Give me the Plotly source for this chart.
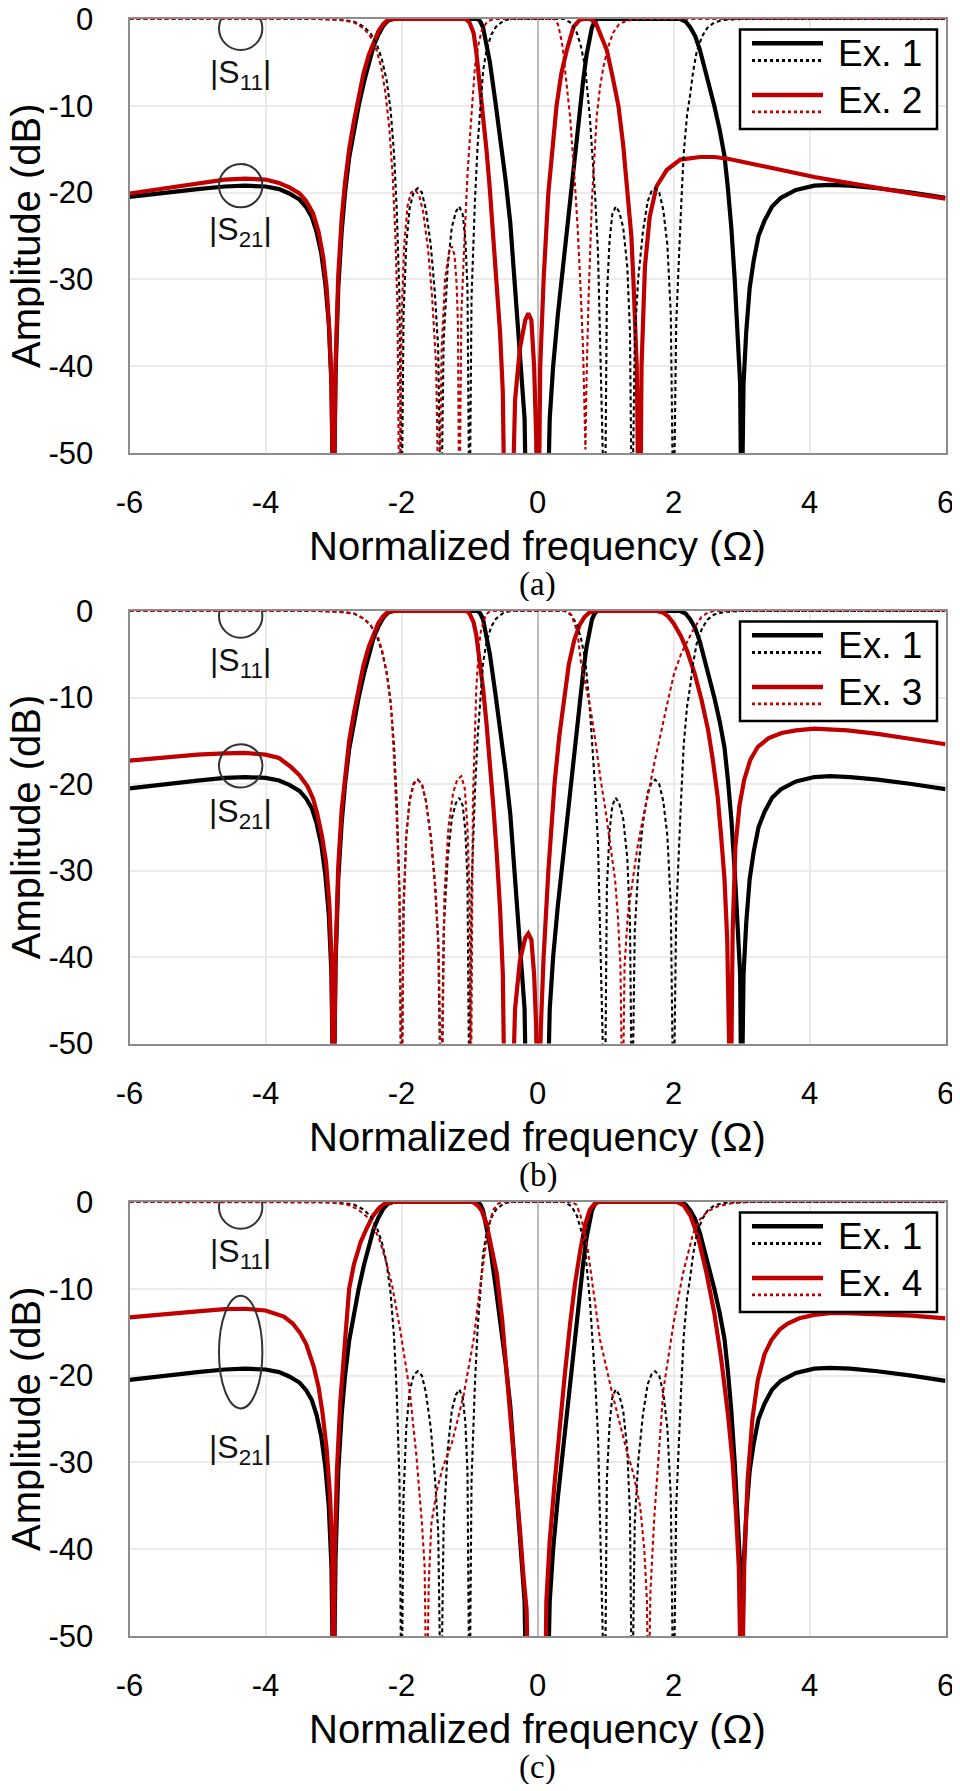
import plotly.graph_objects as go

# ---------------- data (Ω, dB) ----------------
EX1_S21 = [(-6.0,-20.5),(-5.5,-20.0),(-5.0,-19.6),(-4.6,-19.3),(-4.3,-19.2),(-4.0,-19.3),(-3.8,-19.6),
    (-3.65,-20.1),(-3.5,-20.8),(-3.4,-21.7),(-3.32,-22.8),(-3.25,-24.5),(-3.18,-27.0),(-3.12,-30.5),
    (-3.07,-35),(-3.03,-42),(-3.0,-60),(-2.97,-41),(-2.93,-31),(-2.88,-24.5),(-2.83,-20),(-2.77,-16),
    (-2.7,-12.8),(-2.63,-10),(-2.55,-7.2),(-2.48,-5),(-2.41,-3.1),(-2.34,-1.8),(-2.27,-0.8),(-2.2,-0.2),
    (-2.12,0),(-0.88,0),(-0.84,-0.3),(-0.8,-1.0),(-0.75,-2.8),(-0.7,-5.0),(-0.62,-9.5),(-0.55,-13.5),
    (-0.47,-18.5),(-0.4,-23.5),(-0.31,-33),(-0.24,-40.5),(-0.19,-46),(-0.16,-60),(0.14,-60),(0.18,-46),
    (0.23,-40),(0.3,-34),(0.38,-28),(0.46,-22.5),(0.53,-17.5),(0.6,-12),(0.67,-7.2),(0.72,-4.2),
    (0.76,-2.3),(0.8,-1.0),(0.84,-0.3),(0.88,0),(2.1,0),(2.18,-0.3),(2.25,-1.0),(2.32,-2.0),(2.39,-3.6),
    (2.45,-5.3),(2.52,-7.5),(2.6,-10),(2.68,-12.8),(2.75,-15.8),(2.8,-19.5),(2.85,-24),(2.9,-30),
    (2.95,-36.5),(2.98,-42),(3.0,-60),(3.03,-42),(3.07,-36),(3.12,-31),(3.18,-27.8),(3.25,-25),
    (3.34,-23.2),(3.45,-21.6),(3.58,-20.6),(3.8,-19.7),(4.07,-19.2),(4.3,-19.1),(4.6,-19.2),
    (5.0,-19.5),(5.5,-20.0),(6.0,-20.6)]

EX1_S11 = [(-6,0),(-3.2,0),(-2.9,-0.1),(-2.7,-0.3),(-2.55,-0.9),(-2.45,-1.7),(-2.36,-3.0),(-2.29,-4.6),
    (-2.22,-7.0),(-2.16,-10.5),(-2.11,-15.5),(-2.07,-22),(-2.03,-32),(-2.0,-60),(-1.97,-34),(-1.93,-26),
    (-1.88,-21.8),(-1.82,-19.9),(-1.76,-19.5),(-1.7,-20),(-1.64,-22),(-1.57,-26),(-1.51,-31.5),
    (-1.46,-38),(-1.42,-60),(-1.38,-37),(-1.32,-28.5),(-1.26,-24),(-1.2,-22.2),(-1.15,-21.6),
    (-1.1,-22.5),(-1.06,-25.5),(-1.03,-31),(-1.0,-60),(-0.97,-32),(-0.92,-20.9),(-0.88,-14.5),
    (-0.85,-11),(-0.8,-6),(-0.75,-3.6),(-0.68,-1.8),(-0.61,-0.9),(-0.5,-0.2),(-0.4,0),(0.4,0),
    (0.5,-0.5),(0.58,-1.6),(0.64,-3.2),(0.7,-5.5),(0.77,-11.3),(0.81,-15.5),(0.85,-20.8),(0.89,-27),
    (0.92,-36),(0.99,-60),(1.02,-32),(1.06,-25.5),(1.1,-22.5),(1.15,-21.6),(1.2,-22.2),(1.26,-24),
    (1.32,-28.5),(1.36,-36),(1.39,-60),(1.43,-37),(1.48,-30),(1.55,-24.5),(1.62,-21),(1.68,-19.8),
    (1.73,-19.5),(1.79,-20),(1.85,-22),(1.91,-26),(1.96,-34),(2.0,-60),(2.04,-35),(2.08,-27),
    (2.11,-22),(2.15,-15.5),(2.2,-11),(2.24,-9),(2.29,-6),(2.34,-3.8),(2.42,-2.0),(2.5,-1.0),
    (2.6,-0.4),(2.75,-0.1),(3.0,0),(6,0)]

EX2_S21 = [(-6,-20.1),(-5.5,-19.5),(-5.0,-18.9),(-4.6,-18.5),(-4.3,-18.4),(-4.0,-18.5),(-3.8,-18.9),
    (-3.65,-19.4),(-3.5,-20.1),(-3.4,-21.0),(-3.3,-22.4),(-3.22,-24.5),(-3.15,-27.5),(-3.1,-31),
    (-3.06,-36),(-3.03,-42),(-3.0,-60),(-2.97,-40),(-2.93,-29.5),(-2.88,-23),(-2.83,-18.8),(-2.77,-15),
    (-2.7,-11.8),(-2.64,-9.3),(-2.56,-6.3),(-2.48,-4.1),(-2.41,-2.6),(-2.34,-1.4),(-2.27,-0.6),
    (-2.2,-0.1),(-2.12,0),(-1.06,0),(-1.0,-0.4),(-0.94,-1.6),(-0.9,-3.8),(-0.85,-7.4),(-0.8,-11),
    (-0.75,-15.1),(-0.7,-19.7),(-0.65,-24.7),(-0.6,-30.3),(-0.55,-36.2),(-0.51,-43),(-0.48,-60),
    (-0.38,-60),(-0.33,-43.9),(-0.26,-38),(-0.18,-34.7),(-0.135,-33.9),(-0.09,-34.7),(-0.05,-40),
    (-0.02,-48),(0.0,-60),(0.015,-60),(0.04,-40),(0.09,-30),(0.16,-20),(0.28,-10),(0.35,-6.3),
    (0.43,-3.6),(0.53,-0.9),(0.62,-0.1),(0.68,0),(0.78,0),(0.86,-0.5),(0.92,-1.6),(1.02,-3.6),
    (1.1,-6.5),(1.19,-10),(1.26,-14.5),(1.33,-20),(1.38,-25),(1.41,-30),(1.44,-35),(1.46,-40),
    (1.49,-60),(1.51,-60),(1.53,-40),(1.58,-28.5),(1.65,-22.8),(1.75,-19.3),(1.9,-17.4),(2.1,-16.2),
    (2.39,-15.9),(2.6,-15.9),(2.8,-16.1),(3.09,-16.6),(3.5,-17.2),(4.07,-18.2),(4.5,-18.8),
    (5.0,-19.5),(5.5,-20.1),(6.0,-20.7)]

EX2_S11 = [(-6,0),(-3.2,0),(-2.9,-0.1),(-2.7,-0.4),(-2.55,-1.1),(-2.45,-2.1),(-2.37,-3.5),(-2.3,-5.5),
    (-2.24,-8.3),(-2.18,-12.5),(-2.13,-18),(-2.09,-25),(-2.06,-33),(-2.03,-60),(-2.0,-35),(-1.96,-26),
    (-1.91,-21.5),(-1.86,-20),(-1.8,-19.7),(-1.74,-20.3),(-1.68,-22.3),(-1.61,-26.5),(-1.55,-32),
    (-1.49,-40),(-1.45,-60),(-1.41,-38),(-1.36,-30),(-1.3,-26.8),(-1.26,-26.2),(-1.22,-27.2),
    (-1.19,-30.5),(-1.17,-35),(-1.15,-60),(-1.12,-34),(-1.07,-24.7),(-1.03,-18),(-0.99,-13.2),
    (-0.92,-5.5),(-0.87,-3),(-0.82,-1.3),(-0.74,-0.3),(-0.65,0),(0.25,0),(0.3,-0.6),(0.33,-1.6),
    (0.37,-3.2),(0.4,-5.5),(0.44,-8.3),(0.48,-11.3),(0.55,-19),(0.59,-24),(0.63,-30.5),(0.67,-38),
    (0.705,-49.6),(0.72,-42),(0.75,-32.4),(0.8,-20.9),(0.87,-11.3),(0.92,-7.8),(0.97,-5.5),
    (1.04,-3.2),(1.11,-1.6),(1.2,-0.6),(1.31,-0.2),(1.45,0),(6,0)]

EX3_S21 = [(-6,-17.3),(-5.5,-16.9),(-5.0,-16.6),(-4.6,-16.45),(-4.3,-16.4),(-4.0,-16.6),(-3.8,-17.0),
    (-3.63,-18.0),(-3.5,-19.0),(-3.38,-20.3),(-3.3,-21.7),(-3.24,-23.4),(-3.17,-26),(-3.11,-29),
    (-3.06,-34),(-3.03,-40),(-3.0,-60),(-2.97,-40),(-2.93,-29.5),(-2.88,-23),(-2.83,-18.8),
    (-2.77,-15),(-2.7,-11.8),(-2.64,-9.3),(-2.56,-6.3),(-2.48,-4.1),(-2.41,-2.6),(-2.34,-1.4),
    (-2.27,-0.6),(-2.2,-0.1),(-2.12,0),(-1.04,0),(-1.0,-0.3),(-0.94,-1.3),(-0.9,-2.8),(-0.85,-5.5),
    (-0.8,-9),(-0.75,-13),(-0.7,-17.5),(-0.65,-22.5),(-0.6,-28),(-0.55,-34.5),(-0.51,-42),(-0.48,-60),
    (-0.38,-60),(-0.33,-46),(-0.26,-40.5),(-0.18,-37.8),(-0.135,-37.3),(-0.09,-38),(-0.05,-42),
    (-0.02,-48),(0.0,-60),(0.015,-60),(0.05,-48),(0.09,-40),(0.16,-30),(0.25,-20),(0.32,-14.5),
    (0.4,-9.9),(0.46,-6.2),(0.54,-3.4),(0.62,-1.6),(0.69,-0.7),(0.76,-0.2),(0.84,0),(1.75,0),
    (1.85,-0.2),(1.92,-0.6),(2.0,-1.4),(2.11,-2.9),(2.2,-4.6),(2.31,-7.2),(2.41,-10.2),(2.51,-13.8),
    (2.58,-17.3),(2.65,-21.5),(2.7,-26),(2.75,-31),(2.79,-38),(2.82,-60),(2.84,-60),(2.87,-37),
    (2.91,-27.3),(2.97,-22.5),(3.04,-19.5),(3.13,-17.2),(3.24,-15.7),(3.4,-14.7),(3.59,-14.1),
    (3.8,-13.8),(4.07,-13.6),(4.56,-13.8),(5.0,-14.2),(5.5,-14.8),(6.0,-15.4)]

EX3_S11 = [(-6,0),(-3.2,0),(-2.9,-0.1),(-2.7,-0.3),(-2.55,-0.9),(-2.45,-1.7),(-2.35,-2.9),(-2.28,-4.7),
    (-2.2,-8),(-2.15,-11.5),(-2.11,-17),(-2.07,-24),(-2.03,-33),(-2.0,-60),(-1.97,-35),(-1.93,-26),
    (-1.88,-22),(-1.82,-20),(-1.76,-19.5),(-1.7,-20),(-1.64,-22),(-1.57,-26),(-1.5,-32),(-1.45,-40),
    (-1.41,-60),(-1.37,-33),(-1.31,-25),(-1.24,-21),(-1.18,-19.5),(-1.12,-19.1),(-1.07,-20.5),
    (-1.03,-25),(-1.0,-33),(-0.98,-60),(-0.95,-22),(-0.9,-9),(-0.86,-4),(-0.83,-2.2),(-0.76,-0.4),
    (-0.7,-0.05),(-0.65,0),(0.45,0),(0.5,-0.5),(0.56,-1.8),(0.6,-3.3),(0.64,-6),(0.72,-9),
    (0.79,-11.8),(0.86,-15.5),(0.93,-19.6),(1.0,-23),(1.08,-27.3),(1.14,-31),(1.18,-35),(1.22,-41),
    (1.25,-60),(1.28,-41),(1.33,-35),(1.4,-31),(1.47,-27.3),(1.55,-24),(1.62,-21.5),(1.72,-17.5),
    (1.82,-13.8),(1.92,-10.3),(2.01,-7.2),(2.11,-5),(2.21,-3.4),(2.31,-1.9),(2.41,-0.7),(2.5,-0.2),
    (2.6,0),(6,0)]

EX4_S21 = [(-6,-13.3),(-5.5,-12.9),(-5.0,-12.6),(-4.6,-12.35),(-4.3,-12.3),(-4.0,-12.5),(-3.73,-13.2),
    (-3.6,-14.0),(-3.49,-15.1),(-3.4,-16.4),(-3.29,-19),(-3.22,-21.3),(-3.16,-24.4),(-3.1,-28.5),
    (-3.05,-34),(-3.02,-40),(-3.0,-60),(-2.98,-40),(-2.95,-31),(-2.9,-23),(-2.85,-17.5),(-2.77,-10),
    (-2.7,-7.2),(-2.6,-4.6),(-2.51,-3),(-2.42,-1.6),(-2.33,-0.7),(-2.25,-0.2),(-2.15,0),(-0.95,0),
    (-0.88,-0.4),(-0.82,-1.0),(-0.75,-2.5),(-0.68,-5),(-0.6,-8.2),(-0.52,-13.5),(-0.45,-19.7),
    (-0.38,-26.5),(-0.31,-33.2),(-0.25,-38.5),(-0.21,-42.8),(-0.16,-47),(-0.13,-60),(0.11,-60),
    (0.13,-46),(0.18,-39),(0.25,-32.5),(0.33,-25.5),(0.4,-20),(0.48,-14),(0.55,-9.5),(0.63,-5.5),
    (0.7,-2.6),(0.77,-0.9),(0.84,-0.2),(0.9,0),(2.05,0),(2.15,-0.4),(2.25,-1.6),(2.36,-4),(2.48,-8),
    (2.6,-12.8),(2.7,-18),(2.8,-24.4),(2.87,-30),(2.92,-36),(2.96,-42),(3.0,-60),(3.04,-42),
    (3.09,-32),(3.16,-25),(3.24,-20.5),(3.34,-17.5),(3.44,-15.9),(3.56,-14.7),(3.68,-14),
    (3.85,-13.4),(4.07,-13.0),(4.3,-12.8),(4.56,-12.8),(5.0,-12.9),(5.5,-13.1),(6.0,-13.4)]

EX4_S11 = [(-6,0),(-3.2,0),(-3.0,-0.05),(-2.8,-0.3),(-2.65,-0.8),(-2.52,-1.6),(-2.43,-2.6),
    (-2.33,-4.2),(-2.24,-6.5),(-2.14,-9.5),(-2.02,-14.7),(-1.88,-21.7),(-1.78,-29.3),(-1.7,-37),
    (-1.66,-42),(-1.63,-60),(-1.6,-44),(-1.56,-37),(-1.48,-33.2),(-1.39,-30.5),(-1.26,-27.8),
    (-1.09,-22.4),(-0.94,-15.9),(-0.85,-10.1),(-0.75,-4.4),(-0.7,-2.3),(-0.65,-0.9),(-0.58,-0.2),
    (-0.5,0),(0.5,0),(0.57,-0.3),(0.63,-1.5),(0.72,-4.4),(0.82,-10.1),(0.92,-15.9),(1.11,-22.4),
    (1.31,-28.6),(1.41,-31.3),(1.51,-35.1),(1.57,-40),(1.61,-46),(1.63,-60),(1.66,-45),(1.72,-36),
    (1.78,-29.3),(1.85,-21.7),(2.0,-14),(2.14,-8.2),(2.29,-3.6),(2.39,-2),(2.5,-1.1),(2.65,-0.5),
    (2.85,-0.15),(3.1,0),(6,0)]

PANELS = [("Ex. 2", EX2_S21, EX2_S11, "(a)"),
          ("Ex. 3", EX3_S21, EX3_S11, "(b)"),
          ("Ex. 4", EX4_S21, EX4_S11, "(c)")]

X_TICKS = [-6, -4, -2, 0, 2, 4, 6]
X_TICKTEXT = ["-6", "-4", "-2", "0", "2", "4", "6"]
Y_TICKS = [0, -10, -20, -30, -40, -50]
Y_TICKTEXT = ["0", "-10", "-20", "-30", "-40", "-50"]

# ---------------- layout geometry (pixels of the 960x1791 page) ----------------
PAGE_W, PAGE_H = 960, 1791
BODY_MARGIN = 8                       # default <body> margin of the html page
W, H = PAGE_W - BODY_MARGIN, PAGE_H - BODY_MARGIN
X_LEFT, X_RIGHT = 129.5, 945.5
PANEL_TOP = [19, 611, 1202]
PANEL_BOT = [453, 1043.5, 1636]
# annotation positions (Ω, dB)
S11_CIRCLE_Y = [-1.07, -0.58, -0.58]
S11_TEXT_Y = [-6.45, -5.9, -5.9]
S21_CIRCLE_Y = [-19.2, -17.9, -17.3]
S21_TEXT_Y = [-24.5, -23.4, -28.5]
S21_RY = [21.7, 21.7, 56.3]
ANN_X = -4.365

BLACK = "#000000"
RED = "#c00000"
FONT = "Liberation Sans, Arial, sans-serif"


def px(x):
    return (x - BODY_MARGIN) / W


def py(y):
    return 1 - (y - BODY_MARGIN) / H


def unzip(pairs):
    return [p[0] for p in pairs], [p[1] for p in pairs]


fig = go.Figure()
shapes = []
annotations = []

for i, (name, s21, s11, tag) in enumerate(PANELS):
    n = "" if i == 0 else str(i + 1)
    xa, ya = "x" + n, "y" + n
    series = [(EX1_S21, BLACK, "solid", 4.2), (s21, RED, "solid", 4.2),
              (EX1_S11, BLACK, "4px,3px", 2.1), (s11, RED, "4px,3px", 2.1)]
    for data, col, dash, w in series:
        xs, ys = unzip(data)
        fig.add_trace(go.Scatter(x=xs, y=ys, mode="lines", xaxis=xa, yaxis=ya,
                                 line=dict(color=col, width=w, dash=dash),
                                 showlegend=False, hoverinfo="skip"))

    top, bot = PANEL_TOP[i], PANEL_BOT[i]
    axis_common = dict(showgrid=True, gridcolor="#ebebeb", gridwidth=1.5, automargin=False,
                       showline=True, linecolor="#8c8c8c", linewidth=2, mirror=True,
                       ticks="outside", tickcolor="rgba(0,0,0,0)", ticklabeloverflow="allow",
                       tickfont=dict(family=FONT, size=31, color="#000"))
    fig.layout["xaxis" + n] = dict(axis_common, domain=[px(X_LEFT), px(X_RIGHT)], anchor=ya,
                                   range=[-6, 6], tickvals=X_TICKS, ticktext=X_TICKTEXT,
                                   ticklen=21, zeroline=True, zerolinecolor="#bdbdbd",
                                   zerolinewidth=2)
    fig.layout["yaxis" + n] = dict(axis_common, domain=[py(bot), py(top)], anchor=xa,
                                   range=[-50, 0], tickvals=Y_TICKS, ticktext=Y_TICKTEXT,
                                   ticklen=28, zeroline=False)

    # |S11| / |S21| markers
    for cy, ry in ((S11_CIRCLE_Y[i], 21.7), (S21_CIRCLE_Y[i], S21_RY[i])):
        shapes.append(dict(type="circle", xref=xa, yref=ya, xsizemode="pixel", ysizemode="pixel",
                           xanchor=ANN_X, yanchor=cy, x0=-21.7, x1=21.7, y0=-ry, y1=ry,
                           line=dict(color="#333333", width=2)))
    for ty, txt in ((S11_TEXT_Y[i], "|S<sub>11</sub>|"), (S21_TEXT_Y[i], "|S<sub>21</sub>|")):
        annotations.append(dict(x=ANN_X, y=ty, xref=xa, yref=ya, text=txt, showarrow=False,
                                font=dict(family=FONT, size=32, color="#111"),
                                xanchor="center", yanchor="middle"))

    # legend box
    lx0, lx1 = 740, 937
    shapes.append(dict(type="rect", xref="paper", yref="paper", x0=px(lx0), x1=px(lx1),
                       y0=py(top + 110), y1=py(top + 10.5), fillcolor="white",
                       line=dict(color="#000", width=2.5), layer="above"))
    for dy, col, dash, w in ((24.3, BLACK, "solid", 4.5), (41.5, BLACK, "dot", 2.8),
                             (76.0, RED, "solid", 4.5), (92.9, RED, "dot", 2.8)):
        shapes.append(dict(type="line", xref="paper", yref="paper", x0=px(752), x1=px(823),
                           y0=py(top + dy), y1=py(top + dy),
                           line=dict(color=col, width=w, dash=dash), layer="above"))
    for dy, txt in ((34, "Ex. 1"), (81.5, name)):
        annotations.append(dict(x=px(836), y=py(top + dy), xref="paper", yref="paper", text=txt,
                                showarrow=False, xanchor="left", yanchor="middle",
                                font=dict(family=FONT, size=37, color="#000")))

    # axis titles and panel tag
    annotations.append(dict(x=px(26), y=py((top + bot) / 2), xref="paper", yref="paper",
                            text="Amplitude (dB)", textangle=-90, showarrow=False, height=36,
                            xanchor="center", yanchor="middle",
                            font=dict(family=FONT, size=40, color="#000")))
    annotations.append(dict(x=px(537.5), y=py(bot + 93), xref="paper", yref="paper",
                            text="Normalized frequency (Ω)", showarrow=False, height=40,
                            xanchor="center", yanchor="middle",
                            font=dict(family=FONT, size=40, color="#000")))
    annotations.append(dict(x=px(537.5), y=py(bot + 131), xref="paper", yref="paper",
                            text=tag, showarrow=False, height=34,
                            xanchor="center", yanchor="middle",
                            font=dict(family="Liberation Serif, Times New Roman, serif",
                                      size=33, color="#000")))

fig.update_layout(width=W, height=H, margin=dict(l=0, r=0, t=0, b=0, autoexpand=False),
                  paper_bgcolor="white", plot_bgcolor="white",
                  shapes=shapes, annotations=annotations, showlegend=False)

fig.write_html("out.html")
